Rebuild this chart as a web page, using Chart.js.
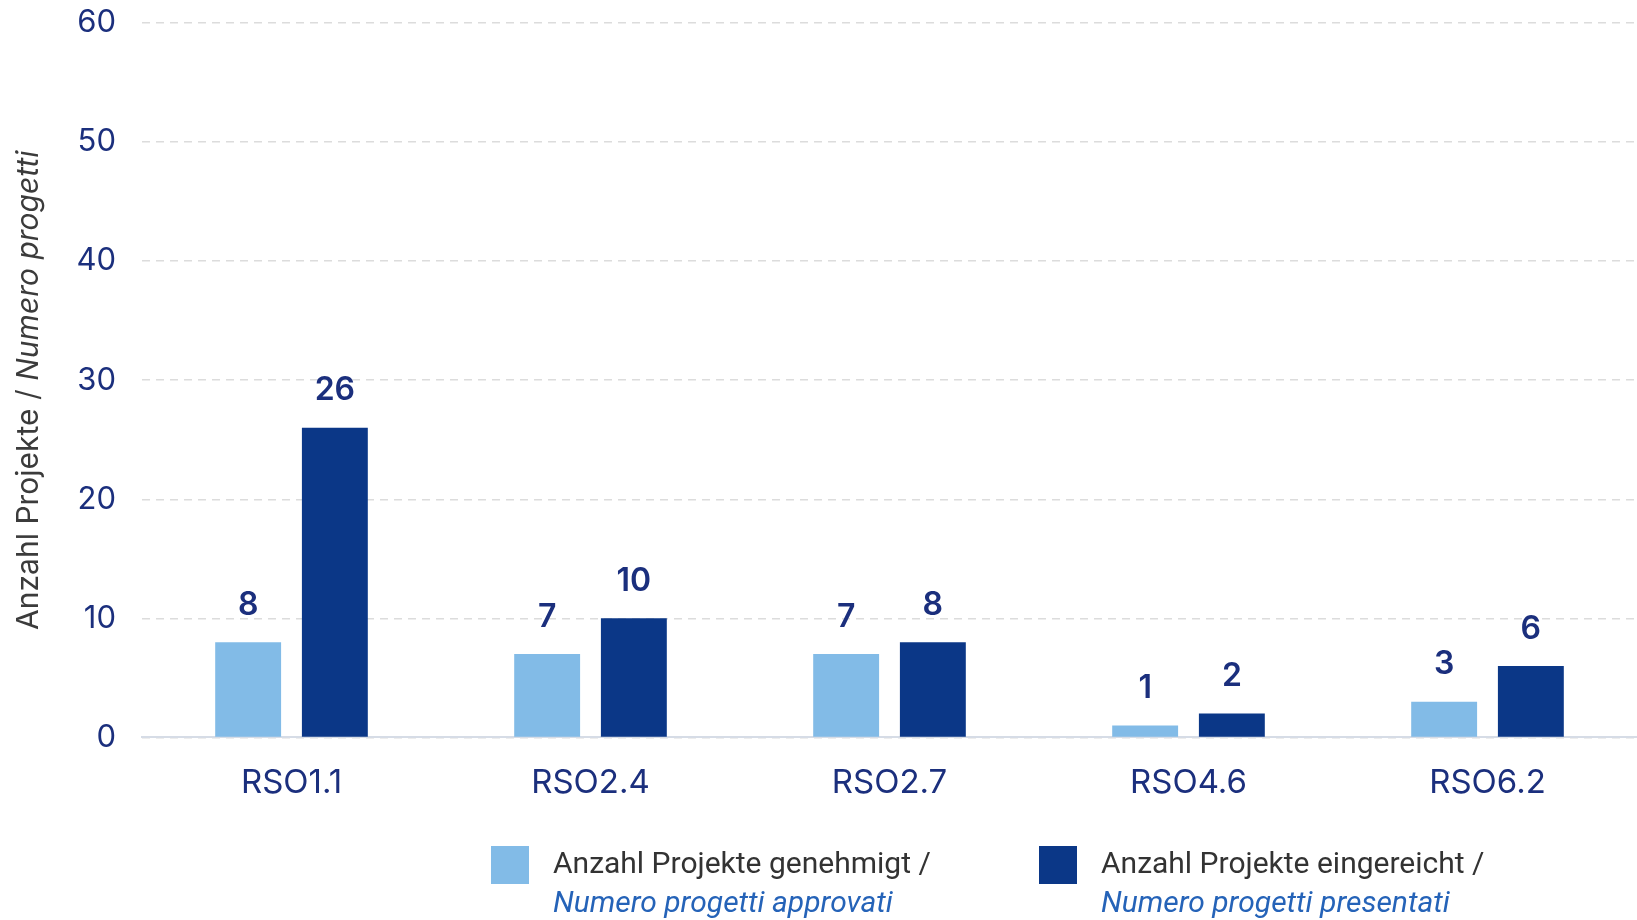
<!DOCTYPE html>
<html>
<head>
<meta charset="utf-8">
<script src="https://cdn.jsdelivr.net/npm/chart.js@4.4.0/dist/chart.umd.min.js"></script>
<style>
  html, body { margin: 0; padding: 0; background: #fff; }
  #wrap { position: relative; width: 1637px; height: 920px; }
  #legend { position: absolute; left: 0; top: 0; width: 100%; height: 100%; pointer-events: none; font-family: Roboto, sans-serif; }
  .box { position: absolute; width: 38px; height: 38px; }
  .txt { position: absolute; white-space: nowrap; font-size: 30px; line-height: 39px; color: #333; }
  .txt i { color: #2563b8; }
</style>
</head>
<body>
<div id="wrap">
  <canvas id="canvas" width="1637" height="920"></canvas>
  <div id="legend"></div>
</div>
<script>
let categories = ["RSO1.1", "RSO2.4", "RSO2.7", "RSO4.6", "RSO6.2"];
let approved = [8, 7, 7, 1, 3];
let submitted = [26, 10, 8, 2, 6];
let yTicks = [0, 10, 20, 30, 40, 50, 60];
let labelsDe = ["Anzahl Projekte genehmigt /", "Anzahl Projekte eingereicht /"];
let labelsIt = ["Numero progetti approvati", "Numero progetti presentati"];
let colors = ["#82bbe7", "#0b3787"];

let navy = "#1b2f7d";

// values above the bars
let valueLabels = {
    id: "valueLabels",
    afterDatasetsDraw(chart) {
        let ctx = chart.ctx;
        ctx.save();
        ctx.font = "600 32px Inter, sans-serif";
        ctx.fillStyle = navy;
        ctx.textAlign = "center";
        ctx.textBaseline = "middle";
        chart.data.datasets.forEach((ds, i) => {
            chart.getDatasetMeta(i).data.forEach((bar, j) => {
                ctx.fillText(ds.data[j], bar.x, bar.y - 37);
            });
        });
        ctx.restore();
    }
};

// y axis title with an italic second half
let yTitle = {
    id: "yTitle",
    afterDraw(chart) {
        let ctx = chart.ctx;
        let a = chart.chartArea;
        let p1 = "Anzahl Projekte / ";
        let p2 = "Numero progetti";
        ctx.save();
        ctx.fillStyle = "#3b3b3b";
        ctx.textBaseline = "middle";
        ctx.font = "30px Inter, sans-serif";
        let w1 = ctx.measureText(p1).width;
        ctx.font = "italic 30px Inter, sans-serif";
        let w2 = ctx.measureText(p2).width;
        ctx.translate(29, (a.top + a.bottom) / 2 + 10);
        ctx.rotate(-Math.PI / 2);
        let x0 = -(w1 + w2) / 2;
        ctx.textAlign = "left";
        ctx.font = "30px Inter, sans-serif";
        ctx.fillText(p1, x0, 0);
        ctx.font = "italic 30px Inter, sans-serif";
        ctx.fillText(p2, x0 + w1, 0);
        ctx.restore();
    }
};

let chart = new Chart(document.getElementById("canvas"), {
    type: "bar",
    data: {
        labels: categories,
        datasets: [{
            label: labelsDe[0] + " " + labelsIt[0],
            data: approved,
            backgroundColor: colors[0],
            categoryPercentage: 0.58,
            barPercentage: 0.76
        }, {
            label: labelsDe[1] + " " + labelsIt[1],
            data: submitted,
            backgroundColor: colors[1],
            categoryPercentage: 0.58,
            barPercentage: 0.76
        }]
    },
    options: {
        responsive: false,
        animation: false,
        devicePixelRatio: 1,
        layout: { padding: { top: 23, right: 0, bottom: 91, left: 0 } },
        plugins: { legend: { display: false }, tooltip: { enabled: false } },
        scales: {
            x: {
                grid: { display: false, drawTicks: false },
                border: { display: true, color: "#d6dce6", width: 2 },
                ticks: { color: navy, padding: 26, font: { family: "Inter, sans-serif", size: 33 } }
            },
            y: {
                min: 0,
                max: 60,
                afterFit(scale) { scale.width = 142; },
                afterBuildTicks(scale) { scale.ticks = yTicks.map(v => ({ value: v })); },
                grid: { color: "#dcdcdc", lineWidth: 1.5, drawTicks: true, tickLength: 26, tickColor: "rgba(0,0,0,0)" },
                border: { display: false, dash: [8, 6] },
                ticks: { color: navy, padding: 0, font: { family: "Inter, sans-serif", size: 31 } }
            }
        }
    },
    plugins: [valueLabels, yTitle]
});

// two-line legend, german / italian
let legend = document.getElementById("legend");
let legendX = [491, 1039];
chart.data.datasets.forEach((ds, i) => {
    let box = document.createElement("div");
    box.className = "box";
    box.style.left = legendX[i] + "px";
    box.style.top = "846px";
    box.style.background = ds.backgroundColor;
    legend.appendChild(box);
    let txt = document.createElement("div");
    txt.className = "txt";
    txt.style.left = (legendX[i] + 62) + "px";
    txt.style.top = "843px";
    txt.innerHTML = labelsDe[i] + "<br><i>" + labelsIt[i] + "</i>";
    legend.appendChild(txt);
});
</script>
</body>
</html>
